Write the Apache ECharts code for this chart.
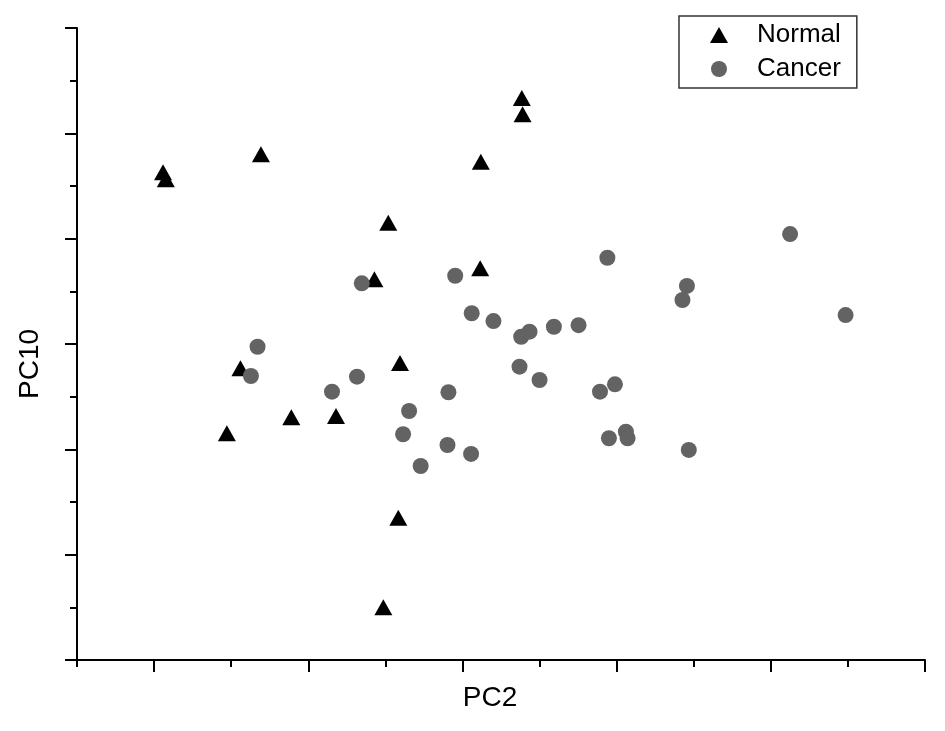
<!DOCTYPE html>
<html>
<head>
<meta charset="utf-8">
<script src="https://cdn.jsdelivr.net/npm/echarts@6/dist/echarts.min.js"></script>
<style>html,body{margin:0;padding:0;background:#fff;}#c{width:945px;height:731px;}</style>
</head>
<body>
<div id="c"></div>
<script>
// PC2 / PC10 scores (axis units; major ticks at integers)
var normalX = [0.058, 0.076, 0.693, 2.385, 2.390, 2.119, 1.519, 2.115, 1.429, 0.560, 1.595, 0.472, 0.890, 1.180, 1.584, 1.487];
var normalY = [4.630, 4.564, 4.801, 5.336, 5.181, 4.731, 4.152, 3.719, 3.614, 2.769, 2.820, 2.152, 2.304, 2.317, 1.351, 0.500];
var cancerX = [0.671, 0.628, 1.347, 1.154, 1.316, 1.953, 2.060, 2.201, 2.381, 2.435, 2.593, 2.753, 2.940, 3.456, 3.427, 4.125, 4.485, 2.370, 2.500, 1.909, 1.654, 1.615, 1.903, 2.056, 1.729, 2.892, 2.989, 2.950, 3.060, 3.071, 3.468];
var cancerY = [2.974, 2.696, 3.576, 2.547, 2.690, 3.648, 3.292, 3.218, 3.069, 3.117, 3.164, 3.179, 3.819, 3.551, 3.418, 4.044, 3.275, 2.785, 2.658, 2.542, 2.364, 2.143, 2.041, 1.956, 1.842, 2.547, 2.617, 2.105, 2.167, 2.105, 1.994];
var xMajorTicks = [0, 1, 2, 3, 4, 5];
var seriesNames = ['Normal', 'Cancer'];

function pairs(xs, ys) { return xs.map(function (v, i) { return [v, ys[i]]; }); }

var FONT = 'Liberation Sans, Arial, sans-serif';
var chart = echarts.init(document.getElementById('c'));
chart.setOption({
  animation: false,
  backgroundColor: '#fff',
  grid: { left: 77, right: 20, top: 28, bottom: 71, containLabel: false },
  legend: {
    orient: 'vertical',
    left: 679, top: 16,
    padding: [6, 16, 6, 31],
    itemWidth: 18, itemHeight: 16, itemGap: 8,
    borderColor: '#333', borderWidth: 1.5,
    textStyle: { fontFamily: FONT, fontSize: 26, color: '#000', lineHeight: 26, padding: [0, 0, 0, 24] },
    data: [
      { name: seriesNames[0], icon: 'triangle' },
      { name: seriesNames[1], icon: 'circle' }
    ]
  },
  xAxis: [{
    type: 'value', min: -0.5, max: 5, interval: 0.5,
    name: 'PC2', nameLocation: 'middle', nameGap: 24,
    nameTextStyle: { fontFamily: FONT, fontSize: 28, color: '#000', padding: [0, 22, 0, 0] },
    axisLine: { show: true, onZero: false, lineStyle: { color: '#000', width: 2 } },
    axisTick: { show: true, length: 7, lineStyle: { color: '#000', width: 2 } },
    axisLabel: { show: false },
    splitLine: { show: false }
  }, {
    type: 'value', min: -0.5, max: 5, position: 'bottom',
    axisLine: { show: false },
    axisTick: { show: true, length: 12, customValues: xMajorTicks, lineStyle: { color: '#000', width: 2 } },
    axisLabel: { show: false },
    splitLine: { show: false }
  }],
  yAxis: {
    type: 'value', min: 0, max: 6, interval: 1,
    name: 'PC10', nameLocation: 'middle', nameGap: 33,
    nameTextStyle: { fontFamily: FONT, fontSize: 28, color: '#000', padding: [0, 40, 0, 0] },
    axisLine: { show: true, onZero: false, lineStyle: { color: '#000', width: 2 } },
    axisTick: { show: true, length: 12, lineStyle: { color: '#000', width: 2 } },
    minorTick: { show: true, splitNumber: 2, length: 7, lineStyle: { color: '#000', width: 2 } },
    axisLabel: { show: false },
    splitLine: { show: false }
  },
  series: [{
    name: seriesNames[0], type: 'scatter', symbol: 'triangle', symbolSize: [18, 16],
    itemStyle: { color: '#000', opacity: 1 },
    data: pairs(normalX, normalY)
  }, {
    name: seriesNames[1], type: 'scatter', symbol: 'circle', symbolSize: 16,
    itemStyle: { color: '#636363', opacity: 1 },
    data: pairs(cancerX, cancerY)
  }]
});
</script>
</body>
</html>
